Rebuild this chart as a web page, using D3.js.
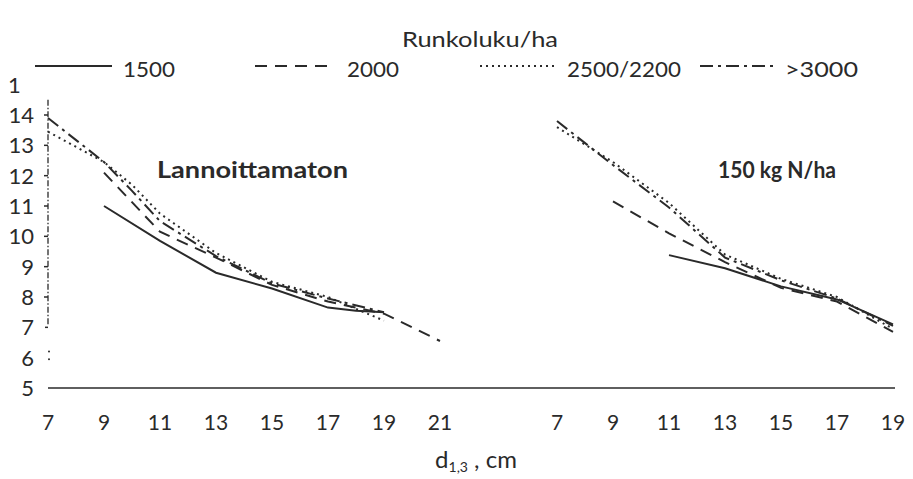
<!DOCTYPE html>
<html>
<head>
<meta charset="utf-8">
<script src="https://cdn.jsdelivr.net/npm/d3@7"></script>
<style>
  html, body { margin: 0; padding: 0; background: #fff; }
  svg { display: block; }
  text { font-family: Lato, "Open Sans", sans-serif; fill: #2a2a2a; }
</style>
</head>
<body>
<svg id="chart" width="913" height="479"></svg>
<script>
// ---- data ----
const seriesNames = ["1500", "2000", "2500/2200", ">3000"];
const leftTicks = [7, 9, 11, 13, 15, 17, 19, 21];
const rightTicks = [7, 9, 11, 13, 15, 17, 19];
const yTicks = [5, 6, 7, 8, 9, 10, 11, 12, 13, 14];

// Lannoittamaton (unfertilised)
const left1500 = [[9, 11.0], [11, 9.85], [13, 8.8], [15, 8.28], [17, 7.65], [18, 7.55], [19, 7.5]];
const left2000 = [[9, 12.1], [11, 10.15], [13, 9.3], [15, 8.4], [17, 7.85], [19, 7.45], [21, 6.55]];
const left2500 = [[7, 13.45], [9, 12.45], [10, 11.7], [11, 10.75], [13, 9.45], [15, 8.5], [17, 8.0], [19, 7.22]];
const left3000 = [[7, 13.9], [9, 12.45], [10, 11.5], [11, 10.5], [13, 9.35], [15, 8.45], [17, 7.95], [19, 7.5]];

// 150 kg N/ha
const right1500 = [[11, 9.38], [13, 8.95], [15, 8.35], [17, 7.92], [19, 7.1]];
const right2000 = [[9, 11.15], [11, 10.1], [13, 9.15], [15, 8.3], [17, 7.85], [19, 6.85]];
const right2500 = [[7, 13.6], [9, 12.45], [11, 11.1], [13, 9.4], [15, 8.6], [17, 8.0], [19, 6.95]];
const right3000 = [[7, 13.8], [9, 12.35], [11, 10.95], [13, 9.3], [15, 8.55], [17, 7.95], [19, 7.05]];

// ---- drawing ----
const svg = d3.select("#chart");
const ink = "#2a2a2a";

const y = d3.scaleLinear().domain([5, 14]).range([388, 115]);
const xL = d3.scaleLinear().domain([7, 21]).range([48, 440]);
const xR = d3.scaleLinear().domain([7, 19]).range([557, 893]);

const dashes = {
  "1500": null,
  "2000": "12,8",
  "2500/2200": "2,4",
  ">3000": "13,5,3,5"
};

// title
svg.append("text").attr("x", 480).attr("y", 47).attr("text-anchor", "middle")
  .attr("font-size", 21).attr("textLength", 156).attr("lengthAdjust", "spacingAndGlyphs")
  .text("Runkoluku/ha");

// legend
const legendItems = [
  { name: "1500", x1: 35, x2: 112, tx: 123, tw: 52 },
  { name: "2000", x1: 255, x2: 331, tx: 347, tw: 52 },
  { name: "2500/2200", x1: 480, x2: 556, tx: 567, tw: 114 },
  { name: ">3000", x1: 700, x2: 778, tx: 785, tw: 73 }
];
legendItems.forEach(d => {
  svg.append("line").attr("x1", d.x1).attr("x2", d.x2).attr("y1", 66).attr("y2", 66)
    .attr("stroke", ink).attr("stroke-width", 2)
    .attr("stroke-dasharray", dashes[d.name]);
  svg.append("text").attr("x", d.tx).attr("y", 77).attr("font-size", 22)
    .attr("textLength", d.tw).attr("lengthAdjust", "spacingAndGlyphs").text(d.name);
});

// y axis labels
const yAxis = svg.append("g");
yTicks.forEach(t => {
  yAxis.append("text").attr("x", 34).attr("y", y(t)).attr("dy", "0.36em")
    .attr("text-anchor", "end").attr("font-size", 22).text(t);
});
yAxis.append("text").attr("x", 8).attr("y", y(15)).attr("dy", "0.36em")
  .attr("font-size", 22).text("1");

// y axis line (broken, dash-dot as in the scan)
svg.append("line").attr("x1", xL(7)).attr("x2", xL(7))
  .attr("y1", y(14.5)).attr("y2", y(7.1))
  .attr("stroke", ink).attr("stroke-width", 1.3).attr("stroke-dasharray", "6,2,1.5,2");
[8, 9, 10, 11, 12, 13, 14].forEach(t => {
  svg.append("line").attr("x1", xL(7) - 4).attr("x2", xL(7))
    .attr("y1", y(t)).attr("y2", y(t)).attr("stroke", ink).attr("stroke-width", 1.5);
});
svg.append("line").attr("x1", xL(7) - 3).attr("x2", xL(7)).attr("y1", y(7)).attr("y2", y(7))
  .attr("stroke", ink).attr("stroke-width", 1.5);
[6.2, 5.95].forEach(v => {
  svg.append("circle").attr("cx", xL(7) + 1).attr("cy", y(v)).attr("r", 1).attr("fill", ink);
});

// baseline
svg.append("line").attr("x1", xL(7)).attr("x2", xR(19) + 2).attr("y1", y(5)).attr("y2", y(5))
  .attr("stroke", ink).attr("stroke-width", 1.6);

// x tick labels
leftTicks.forEach(t => {
  svg.append("text").attr("x", xL(t)).attr("y", 430).attr("text-anchor", "middle")
    .attr("font-size", 21).text(t);
});
rightTicks.forEach(t => {
  svg.append("text").attr("x", xR(t)).attr("y", 430).attr("text-anchor", "middle")
    .attr("font-size", 21).text(t);
});

// x axis title
const xt = svg.append("text").attr("x", 476).attr("y", 468).attr("text-anchor", "middle").attr("font-size", 24);
xt.append("tspan").text("d");
xt.append("tspan").attr("font-size", 14).attr("dy", 4).text("1,3");
xt.append("tspan").attr("dy", -4).text(" , cm");

// panel labels
svg.append("text").attr("x", 157).attr("y", 178).attr("font-size", 22).attr("font-weight", "bold")
  .attr("textLength", 191).attr("lengthAdjust", "spacingAndGlyphs").text("Lannoittamaton");
svg.append("text").attr("x", 718).attr("y", 178).attr("font-size", 22).attr("font-weight", "bold")
  .attr("textLength", 118).attr("lengthAdjust", "spacingAndGlyphs").text("150 kg N/ha");

// lines
function draw(data, xs, name) {
  const line = d3.line().x(d => xs(d[0])).y(d => y(d[1]));
  svg.append("path").attr("d", line(data)).attr("fill", "none")
    .attr("stroke", ink).attr("stroke-width", 2)
    .attr("stroke-dasharray", dashes[name]);
}
draw(left1500, xL, "1500");
draw(left2000, xL, "2000");
draw(left2500, xL, "2500/2200");
draw(left3000, xL, ">3000");
draw(right1500, xR, "1500");
draw(right2000, xR, "2000");
draw(right2500, xR, "2500/2200");
draw(right3000, xR, ">3000");
</script>
</body>
</html>
